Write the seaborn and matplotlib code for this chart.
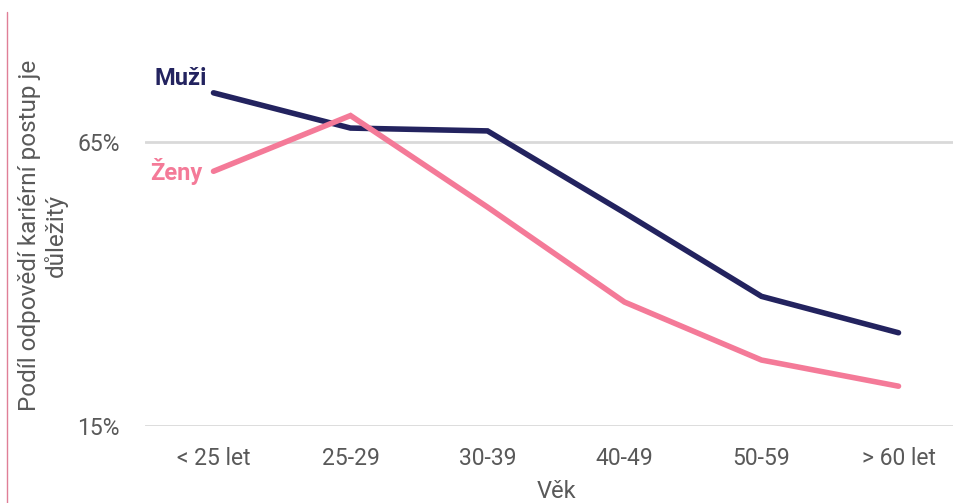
import matplotlib
matplotlib.use("Agg")
import matplotlib.pyplot as plt
import matplotlib.lines as mlines
import seaborn as sns
import pandas as pd

# Age groups and share of respondents saying career advancement matters (%)
age_groups = ["< 25 let", "25-29", "30-39", "40-49", "50-59", "> 60 let"]
men = [73.6, 67.4, 66.9, 52.5, 37.8, 31.4]
women = [59.8, 69.6, 53.5, 36.8, 26.6, 22.0]
series_names = ["Muži", "Ženy"]
y_ticks = [15, 65]

colors = {"Muži": "#23235f", "Ženy": "#f47a98"}

df = pd.DataFrame({
    "pos": list(range(len(age_groups))) * 2,
    "value": men + women,
    "series": [series_names[0]] * len(men) + [series_names[1]] * len(women),
})

sns.set_theme(style="white")
plt.rcParams["font.family"] = ["Roboto", "DejaVu Sans"]

fig = plt.figure(figsize=(9.54, 5.03), dpi=100)
ax = fig.add_axes([145 / 954, 1 - 426 / 503, (967 - 145) / 954, (426 - 28) / 503])

for y in y_ticks:
    ax.axhline(y, color="#d9d9d9", lw=2, zorder=0)

sns.lineplot(data=df, x="pos", y="value", hue="series", palette=colors,
             linewidth=4, sort=False, legend=False, ax=ax,
             solid_capstyle="round", solid_joinstyle="miter")

ax.set_xlim(-0.5, len(age_groups) - 0.5)
ax.set_ylim(15, 85)
ax.set_xticks(range(len(age_groups)))
ax.set_xticklabels(age_groups)
ax.set_yticks(y_ticks)
ax.set_yticklabels([f"{v}%" for v in y_ticks])
ax.tick_params(axis="x", length=0, pad=15, labelsize=16.5, labelcolor="#595959")
ax.tick_params(axis="y", length=0, pad=18, labelsize=16.5, labelcolor="#595959")
for s in ax.spines.values():
    s.set_visible(False)

ax.set_xlabel("Věk", fontsize=17, color="#595959", labelpad=7)
ax.set_ylabel("Podíl odpovědí kariérní postup je\ndůležitý", fontsize=17.5,
              color="#595959", linespacing=1.12)
ax.yaxis.set_label_coords(-0.094, 0.48)

# Series labels next to the first point
ax.annotate("Muži", (0, men[0]), xytext=(-7, 14), textcoords="offset pixels",
            ha="right", va="center", fontsize=17, fontweight="bold",
            color=colors["Muži"])
ax.annotate("Ženy", (0, women[0]), xytext=(-11, 0), textcoords="offset pixels",
            ha="right", va="center", fontsize=17, fontweight="bold",
            color=colors["Ženy"])

# Thin accent rule along the left edge
fig.add_artist(mlines.Line2D([7 / 954, 7 / 954], [0, 1 - 12 / 503],
                             transform=fig.transFigure, color="#e07f97", lw=1))

fig.savefig("out.png", dpi=100)
